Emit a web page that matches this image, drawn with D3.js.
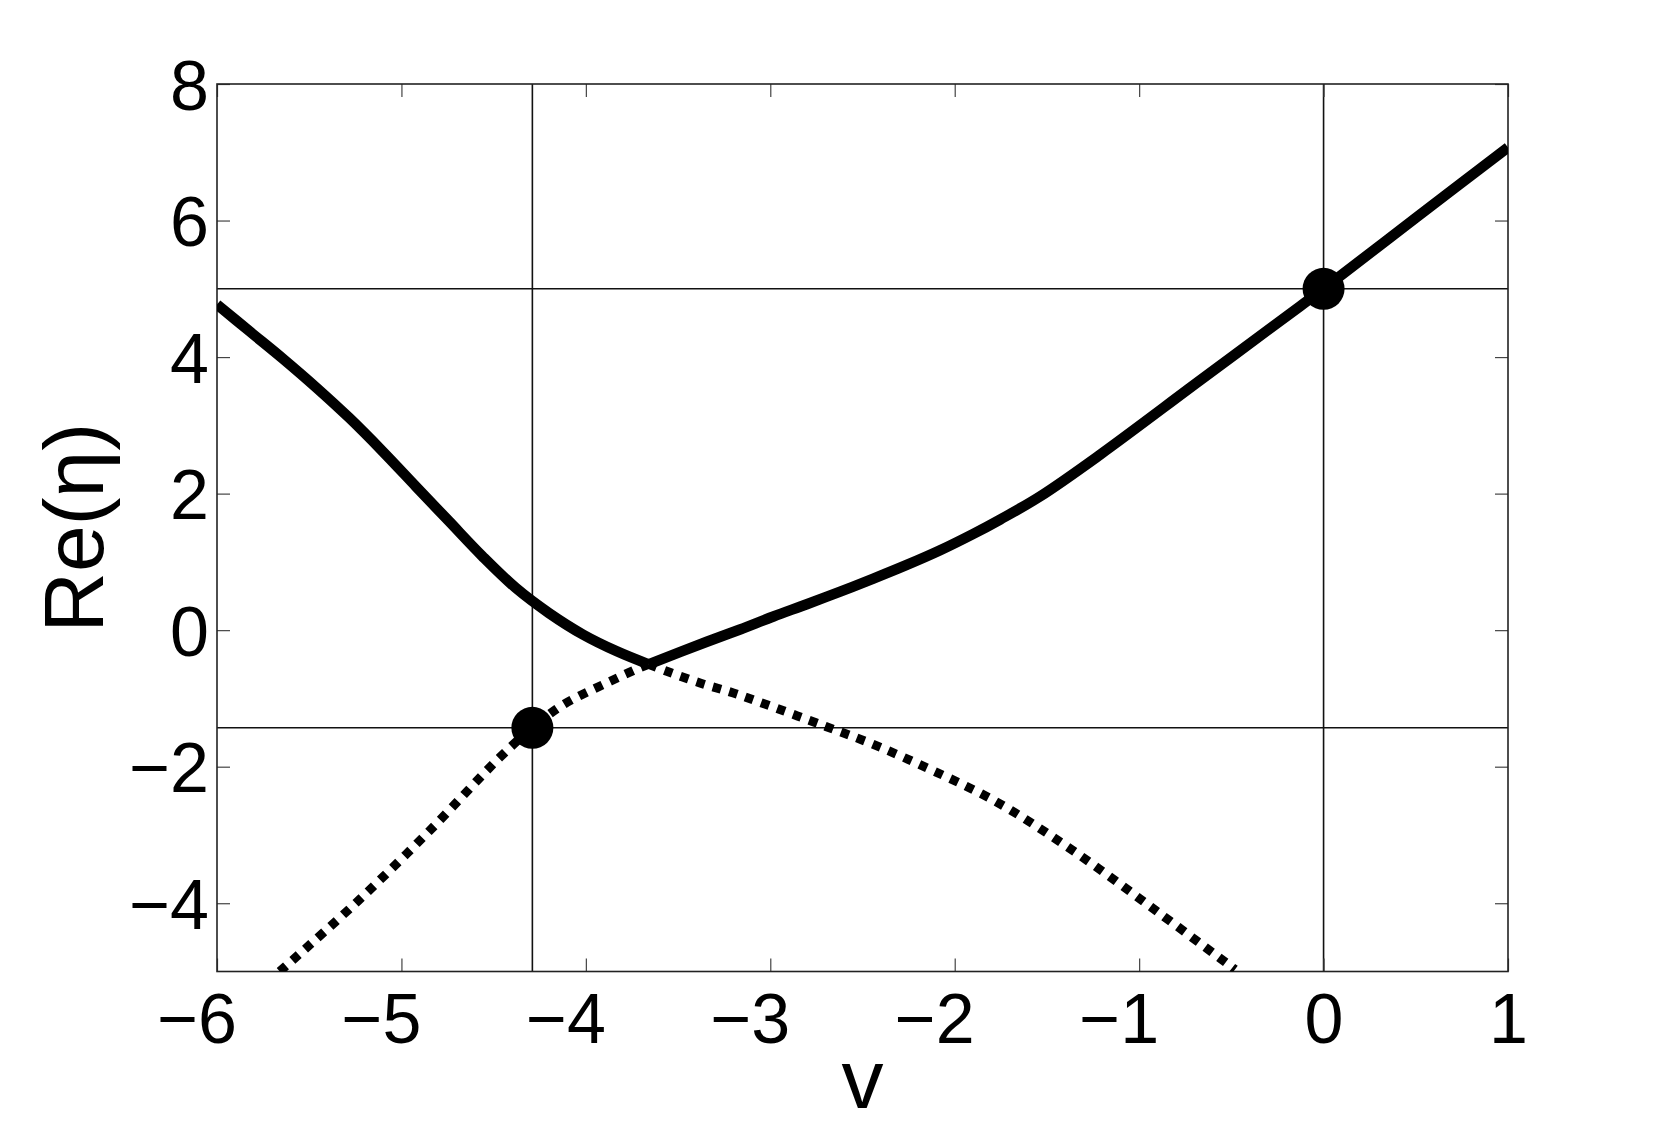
<!DOCTYPE html>
<html>
<head>
<meta charset="utf-8">
<script src="https://cdn.jsdelivr.net/npm/d3@7"></script>
<style>
  html, body { margin: 0; padding: 0; background: #fff; }
  svg { display: block; }
  text { font-family: "Liberation Sans", Arial, Helvetica, sans-serif; fill: #000; }
</style>
</head>
<body>
<svg id="chart" width="1666" height="1127"></svg>
<script>
// ---- Data ----
const xTicks = [-6, -5, -4, -3, -2, -1, 0, 1];
const yTicks = [-4, -2, 0, 2, 4, 6, 8];
const xDomain = [-6, 1];
const yDomain = [-5, 8];

// Upper branch (solid), left of the coalescence point
const solidLeftV = [-6, -5.82, -5.644, -5.46, -5.283, -5.102, -4.921, -4.741, -4.56, -4.379, -4.20, -4.014, -3.832, -3.66];
const solidLeftY = [4.77, 4.37, 3.98, 3.55, 3.11, 2.62, 2.104, 1.592, 1.08, 0.616, 0.25, -0.067, -0.31, -0.50];
// Upper branch (solid), right of the coalescence point
const solidRightV = [-3.66, -3.344, -3.164, -2.983, -2.802, -2.621, -2.441, -2.26, -2.079, -1.899, -1.754, -1.537, -1.212, -0.669, -0.127, 0, 0.5, 1];
const solidRightY = [-0.50, -0.17, 0.01, 0.20, 0.38, 0.565, 0.755, 0.955, 1.17, 1.41, 1.62, 1.96, 2.57, 3.66, 4.745, 5.0, 6.04, 7.07];
// Lower branch (dotted), left of the coalescence point
const dotLeftV = [-5.66, -5.572, -5.237, -4.848, -4.469, -4.29, -4.122, -3.887, -3.724, -3.66];
const dotLeftY = [-5.0, -4.79, -3.97, -2.94, -1.87, -1.43, -1.09, -0.774, -0.57, -0.50];
// Lower branch (dotted), right of the coalescence point
const dotRightV = [-3.66, -3.561, -3.381, -3.20, -3.042, -2.699, -2.463, -2.206, -1.777, -1.337, -0.898, -0.48];
const dotRightY = [-0.50, -0.603, -0.774, -0.92, -1.07, -1.41, -1.65, -1.95, -2.51, -3.27, -4.13, -4.97];

// Reference lines and marked points
const refV = [-4.29, 0];
const refY = [-1.43, 5];
const markV = [-4.29, 0];
const markY = [-1.43, 5];

const xLabel = "v";
const yLabel = "Re(η)";

// ---- Layout ----
const L = 217, R = 1508, T = 84, B = 971.5;
const svg = d3.select("#chart");
const x = d3.scaleLinear().domain(xDomain).range([L, R]);
const y = d3.scaleLinear().domain(yDomain).range([B, T]);
const FS = 70;
const fmt = d => d < 0 ? "\u2212" + Math.abs(d) : String(d);

svg.append("defs").append("clipPath").attr("id", "clip")
  .append("rect").attr("x", L).attr("y", T).attr("width", R - L).attr("height", B - T);

// Reference lines
const g = svg.append("g");
refY.forEach(v => g.append("line")
  .attr("x1", L).attr("x2", R).attr("y1", y(v)).attr("y2", y(v))
  .attr("stroke", "#111").attr("stroke-width", 1.6));
refV.forEach(v => g.append("line")
  .attr("x1", x(v)).attr("x2", x(v)).attr("y1", T).attr("y2", B)
  .attr("stroke", "#111").attr("stroke-width", 1.6));

// Axes (ticks inward on all four sides)
const tk = 13;
const axB = svg.append("g").attr("transform", `translate(0,${B})`)
  .call(d3.axisBottom(x).tickValues(xTicks).tickSize(-tk).tickSizeOuter(0).tickFormat(fmt));
const axT = svg.append("g").attr("transform", `translate(0,${T})`)
  .call(d3.axisTop(x).tickValues(xTicks).tickSize(-tk).tickSizeOuter(0).tickFormat(""));
const axL = svg.append("g").attr("transform", `translate(${L},0)`)
  .call(d3.axisLeft(y).tickValues(yTicks).tickSize(-tk).tickSizeOuter(0).tickFormat(fmt));
const axR = svg.append("g").attr("transform", `translate(${R},0)`)
  .call(d3.axisRight(y).tickValues(yTicks).tickSize(-tk).tickSizeOuter(0).tickFormat(""));
[axB, axT, axL, axR].forEach(a => {
  a.select(".domain").remove();
  a.selectAll(".tick line").attr("stroke", "#444").attr("stroke-width", 1.2);
});
// x labels: digit centred on tick, minus hanging to the left (MATLAB style)
axB.selectAll(".tick text")
  .attr("font-size", FS).attr("text-anchor", "end")
  .attr("x", 0.278 * FS).attr("y", 71).attr("dy", null);
axL.selectAll(".tick text")
  .attr("font-size", FS).attr("text-anchor", "end")
  .attr("x", -8).attr("dy", null).attr("y", 25);

// Box
svg.append("rect").attr("x", L).attr("y", T).attr("width", R - L).attr("height", B - T)
  .attr("fill", "none").attr("stroke", "#222").attr("stroke-width", 1.6);

// Curves
const line = d3.line().x(d => x(d[0])).y(d => y(d[1])).curve(d3.curveCatmullRom.alpha(0.5));
const zip = (a, b) => a.map((v, i) => [v, b[i]]);
const cg = svg.append("g").attr("clip-path", "url(#clip)");
cg.append("path").datum(zip(dotLeftV, dotLeftY)).attr("d", line)
  .attr("fill", "none").attr("stroke", "#000").attr("stroke-width", 9)
  .attr("stroke-dasharray", "8.5,8.5");
cg.append("path").datum(zip(dotRightV, dotRightY)).attr("d", line)
  .attr("fill", "none").attr("stroke", "#000").attr("stroke-width", 9)
  .attr("stroke-dasharray", "8.5,8.5");
cg.append("path").datum(zip(solidLeftV, solidLeftY)).attr("d", line)
  .attr("fill", "none").attr("stroke", "#000").attr("stroke-width", 10.5)
  .attr("stroke-linejoin", "miter");
cg.append("path").datum(zip(solidRightV, solidRightY)).attr("d", line)
  .attr("fill", "none").attr("stroke", "#000").attr("stroke-width", 10.5)
  .attr("stroke-linejoin", "miter");

// Markers
svg.append("g").selectAll("circle").data(zip(markV, markY)).join("circle")
  .attr("cx", d => x(d[0])).attr("cy", d => y(d[1])).attr("r", 21).attr("fill", "#000");

// Axis titles
svg.append("text").attr("x", (L + R) / 2).attr("y", 1108)
  .attr("text-anchor", "middle").attr("font-size", 84).text(xLabel);
svg.append("text").attr("transform", `translate(103,${(T + B) / 2}) rotate(-90)`)
  .attr("text-anchor", "middle").attr("font-size", 84).text(yLabel);
</script>
</body>
</html>
